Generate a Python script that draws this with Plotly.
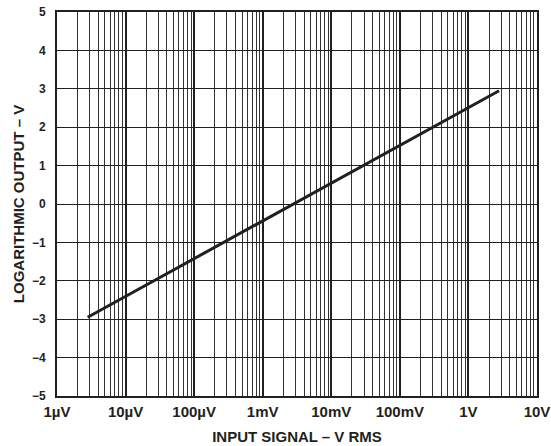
import plotly.graph_objects as go

# data
input_v = [2.8e-6, 2.8]
log_out = [-2.95, 2.95]

x_tickvals = [1e-6, 1e-5, 1e-4, 1e-3, 1e-2, 1e-1, 1, 10]
x_ticktext = ["1\u00b5V", "10\u00b5V", "100\u00b5V", "1mV", "10mV", "100mV", "1V", "10V"]
y_tickvals = [-5, -4, -3, -2, -1, 0, 1, 2, 3, 4, 5]
y_ticktext = [("\u2212" + str(abs(v))) if v < 0 else str(v) for v in y_tickvals]

minor_vals = [k * 10.0 ** d for d in range(-6, 1) for k in range(2, 10)]

FAM = "Liberation Sans, Arial, sans-serif"
INK = "#231f20"

fig = go.Figure()
fig.add_trace(go.Scatter(x=input_v, y=log_out, mode="lines",
                         line=dict(color=INK, width=3), showlegend=False,
                         hoverinfo="skip"))

fig.update_layout(
    width=551, height=446,
    margin=dict(l=57, r=14, t=12, b=50),
    paper_bgcolor="white", plot_bgcolor="white",
    font=dict(family=FAM, color=INK),
)
fig.update_xaxes(
    type="log", range=[-6, 1], automargin=False,
    tickvals=x_tickvals, ticktext=x_ticktext,
    showgrid=True, gridcolor=INK, gridwidth=2,
    minor=dict(tickvals=minor_vals, showgrid=True, gridcolor="#333333", gridwidth=1, ticks=""),
    showline=True, linecolor=INK, linewidth=2, mirror=True,
    ticks="", ticklabelstandoff=1, zeroline=False,
    tickfont=dict(family=FAM, size=15, color=INK, weight="bold"),
    title=dict(text="INPUT SIGNAL \u2013 V RMS",
               font=dict(family=FAM, size=15, color=INK, weight="bold"), standoff=12),
)
fig.update_yaxes(
    range=[-5, 5], automargin=False,
    tickvals=y_tickvals, ticktext=y_ticktext,
    showgrid=True, gridcolor=INK, gridwidth=1.3,
    showline=True, linecolor=INK, linewidth=2, mirror=True,
    ticks="", ticklabelstandoff=7, zeroline=False,
    tickfont=dict(family=FAM, size=12, color=INK, weight="bold"),
    title=dict(text="LOGARITHMIC OUTPUT \u2013 V",
               font=dict(family=FAM, size=15, color=INK, weight="bold"), standoff=4),
)
fig.write_html("out.html", config={"displayModeBar": False},
               post_script="document.body.style.margin='0';")
